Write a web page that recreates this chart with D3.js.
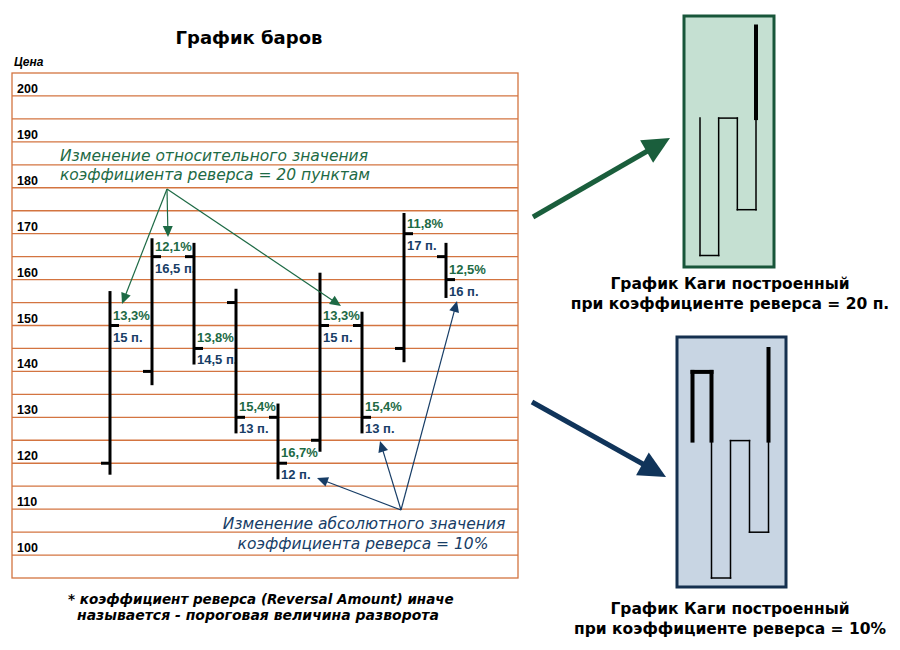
<!DOCTYPE html>
<html lang="ru">
<head>
  <meta charset="UTF-8">
  <script src="https://d3js.org/d3.v7.min.js"></script>
  <style>
    body { margin: 0; background: #fff; }
    svg text { font-family: "Liberation Sans", Arial, sans-serif; }
    svg text.wide { font-family: "DejaVu Sans", Verdana, sans-serif; }
  </style>
  <title>График баров и Каги</title>
</head>
<body>
<div id="chart"></div>
<script>
  // price axis labels
  var priceTicks = [200, 190, 180, 170, 160, 150, 140, 130, 120, 110, 100];

  // nine bars: open (left tick), high, low, close (right tick)
  var barOpen  = [120, 140, 165, 155, 130, 125, 150, 145, 165];
  var barHigh  = [157.5, 169, 168, 158, 133, 161.5, 153, 174.5, 168];
  var barLow   = [117.5, 137, 141.5, 126.5, 116.5, 122.5, 126.5, 142, 156];
  var barClose = [150, 165, 145, 130, 120, 150, 130, 170, 160];

  // reversal labels over / under each close tick
  var pctLabels = ["13,3%", "12,1%", "13,8%", "15,4%", "16,7%", "13,3%", "15,4%", "11,8%", "12,5%"];
  var ptsLabels = ["15 п.", "16,5 п.", "14,5 п.", "13 п.", "12 п.", "15 п.", "13 п.", "17 п.", "16 п."];

  // kagi turning levels
  var kagi20 = [150, 120, 150, 130, 170];
  var kagi10 = [150, 165, 120, 150, 130, 170];

  var width = 900, height = 650;
  var green = "#1d6a45", navy = "#173d66", grid = "#d37440";

  var svg = d3.select("#chart").append("svg")
      .attr("width", width)
      .attr("height", height);

  // ---- bar chart ----
  var x = d3.scaleLinear().domain([0, 8]).range([110, 446]);
  var y = d3.scaleLinear().domain([95, 205]).range([578, 73]);

  svg.append("text")
      .attr("class", "wide")
      .attr("x", 249).attr("y", 44)
      .attr("text-anchor", "middle")
      .style("font-size", "18px").style("font-weight", "bold")
      .text("График баров");

  svg.append("text")
      .attr("x", 14).attr("y", 66)
      .style("font-size", "12px").style("font-weight", "bold").style("font-style", "italic")
      .text("Цена");

  svg.selectAll(".grid")
      .data(d3.range(100, 205, 5))
      .enter().append("line")
      .attr("class", "grid")
      .attr("x1", 12).attr("x2", 518)
      .attr("y1", function(d) { return y(d); })
      .attr("y2", function(d) { return y(d); })
      .attr("stroke", grid).attr("stroke-width", 1.3);

  svg.append("rect")
      .attr("x", 12).attr("y", y(205))
      .attr("width", 506).attr("height", y(95) - y(205))
      .attr("fill", "none").attr("stroke", grid).attr("stroke-width", 1.3);

  svg.selectAll(".tick-label")
      .data(priceTicks)
      .enter().append("text")
      .attr("class", "tick-label")
      .attr("x", 17)
      .attr("y", function(d) { return y(d) - 3; })
      .style("font-size", "12.5px").style("font-weight", "bold")
      .text(function(d) { return d; });

  var bars = svg.selectAll(".bar")
      .data(barOpen.map(function(d, i) { return i; }))
      .enter().append("g")
      .attr("class", "bar");

  bars.append("line")
      .attr("x1", function(i) { return x(i); })
      .attr("x2", function(i) { return x(i); })
      .attr("y1", function(i) { return y(barHigh[i]); })
      .attr("y2", function(i) { return y(barLow[i]); })
      .attr("stroke", "#000").attr("stroke-width", 3);

  bars.append("line")
      .attr("x1", function(i) { return x(i) - 9; })
      .attr("x2", function(i) { return x(i); })
      .attr("y1", function(i) { return y(barOpen[i]); })
      .attr("y2", function(i) { return y(barOpen[i]); })
      .attr("stroke", "#000").attr("stroke-width", 3);

  bars.append("line")
      .attr("x1", function(i) { return x(i); })
      .attr("x2", function(i) { return x(i) + 9; })
      .attr("y1", function(i) { return y(barClose[i]); })
      .attr("y2", function(i) { return y(barClose[i]); })
      .attr("stroke", "#000").attr("stroke-width", 3);

  bars.append("text")
      .attr("x", function(i) { return x(i) + 3; })
      .attr("y", function(i) { return y(barClose[i]) - 6; })
      .attr("fill", green)
      .style("font-size", "13px").style("font-weight", "bold")
      .text(function(i) { return pctLabels[i]; });

  bars.append("text")
      .attr("x", function(i) { return x(i) + 3; })
      .attr("y", function(i) { return y(barClose[i]) + 16; })
      .attr("fill", navy)
      .style("font-size", "13px").style("font-weight", "bold")
      .text(function(i) { return ptsLabels[i]; });

  // arrow helper: line + filled head
  function arrow(x1, y1, x2, y2, color, w, headLen, headHalf) {
    var dx = x2 - x1, dy = y2 - y1, len = Math.sqrt(dx * dx + dy * dy);
    var ux = dx / len, uy = dy / len;
    var bx = x2 - ux * headLen, by = y2 - uy * headLen;
    svg.append("line")
        .attr("x1", x1).attr("y1", y1).attr("x2", bx + ux).attr("y2", by + uy)
        .attr("stroke", color).attr("stroke-width", w);
    svg.append("polygon")
        .attr("points", [[x2, y2], [bx - uy * headHalf, by + ux * headHalf], [bx + uy * headHalf, by - ux * headHalf]].join(" "))
        .attr("fill", color);
  }

  // relative reversal annotation (green)
  svg.append("text")
      .attr("class", "wide")
      .attr("x", 214).attr("y", 161)
      .attr("text-anchor", "middle").attr("fill", green)
      .style("font-size", "15.5px").style("font-style", "italic")
      .text("Изменение относительного значения");
  svg.append("text")
      .attr("class", "wide")
      .attr("x", 215).attr("y", 180)
      .attr("text-anchor", "middle").attr("fill", green)
      .style("font-size", "15.5px").style("font-style", "italic")
      .text("коэффициента реверса = 20 пунктам");

  arrow(167, 189, 122, 304, green, 1.2, 11, 5);
  arrow(167, 189, 168, 237, green, 1.2, 11, 5);
  arrow(167, 189, 341, 306, green, 1.2, 11, 5);

  // absolute reversal annotation (navy)
  svg.append("text")
      .attr("class", "wide")
      .attr("x", 364).attr("y", 529)
      .attr("text-anchor", "middle").attr("fill", navy)
      .style("font-size", "15.5px").style("font-style", "italic")
      .text("Изменение абсолютного значения");
  svg.append("text")
      .attr("class", "wide")
      .attr("x", 363).attr("y", 549)
      .attr("text-anchor", "middle").attr("fill", navy)
      .style("font-size", "15.5px").style("font-style", "italic")
      .text("коэффициента реверса = 10%");

  arrow(401, 510, 317, 478, navy, 1.2, 11, 5);
  arrow(401, 510, 380, 441, navy, 1.2, 11, 5);
  arrow(401, 510, 457, 301, navy, 1.2, 11, 5);

  // footnote
  svg.append("text")
      .attr("class", "wide")
      .attr("x", 68).attr("y", 604)
      .style("font-size", "13.5px").style("font-weight", "bold").style("font-style", "italic")
      .text("* коэффициент реверса (Reversal Amount) иначе");
  svg.append("text")
      .attr("class", "wide")
      .attr("x", 77).attr("y", 620)
      .style("font-size", "14px").style("font-weight", "bold").style("font-style", "italic")
      .text("называется - пороговая величина разворота");

  // ---- kagi charts ----
  function drawKagi(levels, startThick, xs, ys) {
    var thick = startThick;
    var segs = [];
    for (var i = 1; i < levels.length; i++) {
      var a = levels[i - 1], b = levels[i], xi = xs(i - 1);
      var prev = i >= 2 ? levels[i - 2] : null;
      if (prev !== null && ((b > a && !thick && b > prev) || (b < a && thick && b < prev))) {
        segs.push({x1: xi, y1: ys(a), x2: xi, y2: ys(prev), t: thick});
        thick = !thick;
        segs.push({x1: xi, y1: ys(prev), x2: xi, y2: ys(b), t: thick});
      } else {
        segs.push({x1: xi, y1: ys(a), x2: xi, y2: ys(b), t: thick});
      }
      if (i < levels.length - 1) {
        segs.push({x1: xi, y1: ys(b), x2: xs(i), y2: ys(b), t: thick});
      }
    }
    svg.append("g").selectAll("line")
        .data(segs)
        .enter().append("line")
        .attr("x1", function(d) { return d.x1; })
        .attr("y1", function(d) { return d.y1; })
        .attr("x2", function(d) { return d.x2; })
        .attr("y2", function(d) { return d.y2; })
        .attr("stroke", "#000")
        .attr("stroke-width", function(d) { return d.t ? 4 : 1.5; })
        .attr("stroke-linecap", "square");
  }

  // green box (20 points)
  svg.append("rect")
      .attr("x", 684).attr("y", 16).attr("width", 90).attr("height", 251)
      .attr("fill", "#c5e0d2").attr("stroke", "#18563a").attr("stroke-width", 3);
  drawKagi(kagi20, false,
      d3.scaleLinear().domain([0, 3]).range([700, 756]),
      d3.scaleLinear().domain([120, 170]).range([255.5, 26.5]));

  // navy box (10%)
  svg.append("rect")
      .attr("x", 677).attr("y", 337).attr("width", 109).attr("height", 250)
      .attr("fill", "#c8d5e3").attr("stroke", "#15304f").attr("stroke-width", 3);
  drawKagi(kagi10, true,
      d3.scaleLinear().domain([0, 4]).range([692.5, 768.5]),
      d3.scaleLinear().domain([120, 170]).range([578, 349]));

  // big arrows
  arrow(533, 217, 670, 138, "#1a5e3c", 5, 27, 13);
  arrow(532, 402, 666, 477, "#10345a", 5, 27, 13);

  // kagi captions
  var caps = [
    {y: 289, t: "График Каги построенный"},
    {y: 309, t: "при коэффициенте реверса = 20 п."},
    {y: 614, t: "График Каги построенный"},
    {y: 634, t: "при коэффициенте реверса = 10%"}
  ];
  svg.selectAll(".cap")
      .data(caps)
      .enter().append("text")
      .attr("class", "cap wide")
      .attr("x", 730).attr("y", function(d) { return d.y; })
      .attr("text-anchor", "middle")
      .style("font-size", "15.5px").style("font-weight", "bold")
      .text(function(d) { return d.t; });
</script>
</body>
</html>
